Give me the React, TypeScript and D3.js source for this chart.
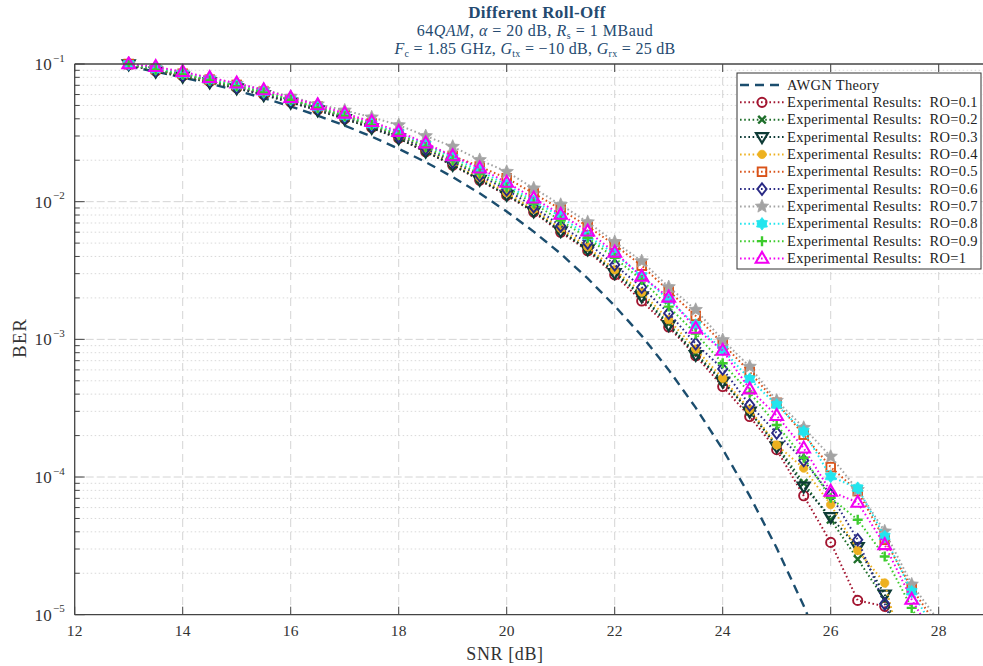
import React from "react";
import * as d3 from "d3";

const SNR = [13, 13.5, 14, 14.5, 15, 15.5, 16, 16.5, 17, 17.5, 18, 18.5, 19, 19.5, 20, 20.5, 21, 21.5, 22, 22.5, 23, 23.5, 24, 24.5, 25, 25.5, 26, 26.5, 27, 27.5, 28];

const THEORY = [0.0961, 0.088, 0.0799, 0.072, 0.0641, 0.0565, 0.0492, 0.0422, 0.0357, 0.0297, 0.0242, 0.0194, 0.0151, 0.0115, 0.00849, 0.00606, 0.00419, 0.00277, 0.00175, 0.00106, 0.0006, 0.000319, 0.000159, 0.000073, 0.0000305, 0.0000116, 0.0000039];

const RO_01 = [0.099, 0.089, 0.082, 0.0745, 0.067, 0.06, 0.053, 0.0465, 0.04, 0.0345, 0.0288, 0.023, 0.0184, 0.0143, 0.0111, 0.0084, 0.006, 0.0044, 0.00294, 0.0019, 0.00123, 0.00076, 0.000454, 0.000275, 0.000158, 0.0000731, 0.0000335, 0.0000127, 0.0000115, 0.000003];
const RO_02 = [0.1, 0.09, 0.082, 0.075, 0.0675, 0.0605, 0.0535, 0.047, 0.0405, 0.035, 0.0292, 0.0234, 0.0187, 0.0146, 0.0113, 0.0086, 0.0062, 0.0045, 0.0031, 0.0021, 0.0013, 0.00079, 0.0005, 0.0003, 0.00017, 0.0000905, 0.000049, 0.0000253, 0.0000129, 0.000004];
const RO_03 = [0.0995, 0.088, 0.081, 0.0735, 0.0665, 0.0595, 0.0525, 0.046, 0.0398, 0.0343, 0.0288, 0.0231, 0.0185, 0.0144, 0.0112, 0.0085, 0.0061, 0.0045, 0.00303, 0.00205, 0.00127, 0.00077, 0.000494, 0.000299, 0.000166, 0.0000853, 0.0000512, 0.000031, 0.000014, 0.000004];
const RO_04 = [0.1, 0.09, 0.0825, 0.075, 0.068, 0.061, 0.054, 0.0475, 0.041, 0.0355, 0.0298, 0.024, 0.0192, 0.015, 0.0116, 0.0088, 0.0064, 0.0047, 0.0032, 0.0022, 0.00139, 0.00085, 0.000522, 0.00031, 0.000171, 0.000116, 0.000063, 0.0000293, 0.000017, 0.000003];
const RO_05 = [0.1, 0.092, 0.085, 0.077, 0.0705, 0.063, 0.0555, 0.049, 0.0425, 0.037, 0.031, 0.0255, 0.0215, 0.018, 0.0148, 0.0115, 0.0088, 0.0066, 0.00485, 0.00343, 0.00225, 0.00148, 0.00093, 0.00058, 0.000346, 0.000203, 0.000118, 0.000079, 0.000035, 0.0000156, 0.000008];
const RO_06 = [0.1, 0.09, 0.083, 0.0755, 0.068, 0.061, 0.054, 0.0475, 0.041, 0.0355, 0.0298, 0.0243, 0.0195, 0.0155, 0.0122, 0.0092, 0.00667, 0.005, 0.00348, 0.00239, 0.00155, 0.00093, 0.00061, 0.000334, 0.000209, 0.000132, 0.0000743, 0.000035, 0.000012, 0.000004];
const RO_07 = [0.1, 0.094, 0.087, 0.079, 0.072, 0.065, 0.058, 0.051, 0.046, 0.041, 0.036, 0.03, 0.0251, 0.0201, 0.0165, 0.0125, 0.0095, 0.0071, 0.0051, 0.0037, 0.0024, 0.00164, 0.00099, 0.000634, 0.000359, 0.000228, 0.000141, 0.0000807, 0.0000403, 0.0000166, 0.000009];
const RO_08 = [0.1, 0.092, 0.085, 0.077, 0.07, 0.0625, 0.055, 0.0485, 0.042, 0.0365, 0.0316, 0.026, 0.0208, 0.0168, 0.0132, 0.0101, 0.0078, 0.00564, 0.00418, 0.00289, 0.00194, 0.00127, 0.00084, 0.000514, 0.000334, 0.000214, 0.000101, 0.000083, 0.000037, 0.0000147, 0.000007];
const RO_09 = [0.1, 0.091, 0.084, 0.076, 0.069, 0.062, 0.055, 0.048, 0.0418, 0.036, 0.0305, 0.025, 0.02, 0.016, 0.0127, 0.0097, 0.0073, 0.00546, 0.00391, 0.0027, 0.00173, 0.0011, 0.00067, 0.00041, 0.000239, 0.000138, 0.0000706, 0.000049, 0.0000265, 0.0000112, 0.000005];
const RO_10 = [0.1, 0.0956, 0.0879, 0.0795, 0.0725, 0.0648, 0.0569, 0.0504, 0.0438, 0.0381, 0.0323, 0.0266, 0.0215, 0.0175, 0.0138, 0.0106, 0.00807, 0.0061, 0.00429, 0.00286, 0.00202, 0.0012, 0.00083, 0.000435, 0.000279, 0.000162, 0.0000785, 0.0000653, 0.0000322, 0.0000129, 0.000006];

const SERIES_LABELS = ["RO=0.1", "RO=0.2", "RO=0.3", "RO=0.4", "RO=0.5", "RO=0.6", "RO=0.7", "RO=0.8", "RO=0.9", "RO=1"];
const SERIES_VALUES = [RO_01, RO_02, RO_03, RO_04, RO_05, RO_06, RO_07, RO_08, RO_09, RO_10];
const SERIES_COLORS = ["#A2142F", "#1E6E2A", "#0E3B36", "#EDB120", "#D95319", "#2A2A85", "#A3A3A3", "#22E5EE", "#3CCB2C", "#F200F2"];
const SERIES_MARKERS = ["circle", "x", "tridown", "dot", "square", "diamond", "star", "hex", "plus", "triup"];

const X_TICKS = [12, 14, 16, 18, 20, 22, 24, 26, 28];
const Y_EXPONENTS = [-1, -2, -3, -4, -5];

const W = 983, H = 666;
const L = 74.7, T = 64, B = 614.7;
const R = L + 17 * 54;
const SERIF = "'Liberation Serif', 'Times New Roman', serif";
const TITLE_COLOR = "#244A70";
const AXIS = "#444";
const NB = "\u00A0";

function starPath(r: number, n: number, inner: number) {
  const pts: string[] = [];
  for (let i = 0; i < n * 2; i++) {
    const a = -Math.PI / 2 + (i * Math.PI) / n;
    const rr = i % 2 === 0 ? r : r * inner;
    pts.push(`${(rr * Math.cos(a)).toFixed(2)},${(rr * Math.sin(a)).toFixed(2)}`);
  }
  return "M" + pts.join("L") + "Z";
}

function Marker({ kind, color, x, y }: { kind: string; color: string; x: number; y: number }) {
  const sw = 1.9;
  const t = `translate(${x},${y})`;
  switch (kind) {
    case "circle":
      return <circle cx={x} cy={y} r={4.6} fill="none" stroke={color} strokeWidth={sw} />;
    case "dot":
      return <circle cx={x} cy={y} r={4.2} fill={color} stroke={color} strokeWidth={0.8} />;
    case "x":
      return <path transform={t} d="M-3.8,-3.8L3.8,3.8M-3.8,3.8L3.8,-3.8" stroke={color} strokeWidth={2.4} fill="none" />;
    case "plus":
      return <path transform={t} d="M-5,0L5,0M0,-5L0,5" stroke={color} strokeWidth={2.4} fill="none" />;
    case "tridown":
      return <path transform={t} d="M-6,-4L6,-4L0,6Z" stroke={color} strokeWidth={2.2} fill="none" strokeLinejoin="miter" />;
    case "triup":
      return <path transform={t} d="M-6.3,4.3L6.3,4.3L0,-6.6Z" stroke={color} strokeWidth={2.1} fill="none" />;
    case "square":
      return <rect x={x - 4.3} y={y - 4.3} width={8.6} height={8.6} stroke={color} strokeWidth={sw} fill="none" />;
    case "diamond":
      return <path transform={t} d="M0,-5.8L4.6,0L0,5.8L-4.6,0Z" stroke={color} strokeWidth={sw} fill="none" />;
    case "star":
      return <path transform={t} d={starPath(7, 5, 0.45)} fill={color} stroke={color} strokeWidth={0.8} />;
    case "hex":
      return <path transform={t} d={starPath(6.3, 6, 0.65)} fill={color} stroke={color} strokeWidth={0.8} />;
    default:
      return null;
  }
}

export default function App() {
  const x = d3.scaleLinear().domain([12, 29]).range([L, R]);
  const y = d3.scaleLog().domain([1e-5, 1e-1]).range([B, T]);

  const line = d3
    .line<[number, number]>()
    .x((d) => x(d[0]))
    .y((d) => y(d[1]));

  const theoryPts: [number, number][] = THEORY.map((v, i) => [SNR[i], v]);

  const minorY: number[] = [];
  for (let e = -5; e < -1; e++) {
    for (let m = 2; m <= 9; m++) minorY.push(m * Math.pow(10, e));
  }

  const legendX = 737, legendY = 73, legendW = 244, legendH = 196;
  const rowY = (i: number) => 85 + i * 17.35;

  return (
    <svg width={W} height={H} style={{ position: "absolute", left: 0, top: 0, background: "#fff" }} fontFamily={SERIF}>
      <defs>
        <clipPath id="plotclip">
          <rect x={L} y={T - 8} width={R - L} height={B - T + 8} />
        </clipPath>
      </defs>
      <rect x={0} y={0} width={W} height={H} fill="#fff" />

      {/* title */}
      <text x={537} y={18} textAnchor="middle" fontSize={17} fontWeight="bold" letterSpacing={0.4} fill={TITLE_COLOR}>
        Different Roll-Off
      </text>
      <text x={535} y={36} textAnchor="middle" fontSize={16} letterSpacing={0.5} fill={TITLE_COLOR}>
        64<tspan fontStyle="italic">QAM</tspan>, <tspan fontStyle="italic">α</tspan>{NB}={NB}20 dB, <tspan fontStyle="italic">R</tspan>
        <tspan fontSize={10} dy={3}>s</tspan>
        <tspan dy={-3}>{NB}={NB}1 MBaud</tspan>
      </text>
      <text x={535} y={54} textAnchor="middle" fontSize={16} letterSpacing={0.3} fill={TITLE_COLOR}>
        <tspan fontStyle="italic">F</tspan>
        <tspan fontSize={10} dy={3}>c</tspan>
        <tspan dy={-3}> = 1.85 GHz, </tspan>
        <tspan fontStyle="italic">G</tspan>
        <tspan fontSize={10} dy={3}>tx</tspan>
        <tspan dy={-3}> = −10 dB, </tspan>
        <tspan fontStyle="italic">G</tspan>
        <tspan fontSize={10} dy={3}>rx</tspan>
        <tspan dy={-3}> = 25 dB</tspan>
      </text>

      {/* grid */}
      {minorY.map((v) => (
        <line key={"my" + v} x1={L} x2={R} y1={y(v)} y2={y(v)} stroke="#cfcfcf" strokeWidth={0.8} strokeDasharray="1.5 2.5" />
      ))}
      {Y_EXPONENTS.slice(1, 4).map((e) => (
        <line key={"gy" + e} x1={L} x2={R} y1={y(Math.pow(10, e))} y2={y(Math.pow(10, e))} stroke="#d4d4d4" strokeWidth={1} strokeDasharray="8 3" />
      ))}
      {X_TICKS.slice(1).map((t) => (
        <line key={"gx" + t} x1={x(t)} x2={x(t)} y1={T} y2={B} stroke="#d4d4d4" strokeWidth={1} strokeDasharray="8 5" />
      ))}

      <g clipPath="url(#plotclip)">
        <path d={line(theoryPts) || ""} fill="none" stroke="#1B4D6E" strokeWidth={2.4} strokeDasharray="9 6" />
        {SERIES_VALUES.map((vals, si) => {
          const pts: [number, number][] = vals.map((v, i) => [SNR[i], v]);
          return (
            <g key={"s" + si}>
              <path d={line(pts) || ""} fill="none" stroke={SERIES_COLORS[si]} strokeWidth={2} strokeDasharray="1.6 2.6" />
              {pts
                .filter((p) => p[1] >= 1e-5 * 0.97)
                .map((p, i) => (
                  <Marker key={i} kind={SERIES_MARKERS[si]} color={SERIES_COLORS[si]} x={x(p[0])} y={y(p[1])} />
                ))}
            </g>
          );
        })}
      </g>

      {/* axes frame */}
      <line x1={L} x2={R} y1={B} y2={B} stroke={AXIS} strokeWidth={1.3} />
      <line x1={L} x2={R} y1={T} y2={T} stroke={AXIS} strokeWidth={1.3} />
      <line x1={L} x2={L} y1={T} y2={B} stroke={AXIS} strokeWidth={1.3} />

      {X_TICKS.map((t) => (
        <g key={"xt" + t}>
          <line x1={x(t)} x2={x(t)} y1={B} y2={B - 8} stroke={AXIS} strokeWidth={1} />
          <line x1={x(t)} x2={x(t)} y1={T} y2={T + 8} stroke={AXIS} strokeWidth={1} />
          <text x={x(t)} y={636} textAnchor="middle" fontSize={15.5} letterSpacing={0.3} fill="#333">
            {t}
          </text>
        </g>
      ))}
      {minorY.map((v) => (
        <line key={"mt" + v} x1={L} x2={L + 5} y1={y(v)} y2={y(v)} stroke={AXIS} strokeWidth={1} />
      ))}
      {Y_EXPONENTS.map((e) => (
        <g key={"yt" + e}>
          <line x1={L} x2={L + 10} y1={y(Math.pow(10, e))} y2={y(Math.pow(10, e))} stroke={AXIS} strokeWidth={1} />
          <text x={52} y={y(Math.pow(10, e)) + 6} textAnchor="end" fontSize={17} letterSpacing={0.3} fill="#333">
            10
          </text>
          <text x={53} y={y(Math.pow(10, e)) - 2.5} textAnchor="start" fontSize={11} fill="#333">
            −{-e}
          </text>
        </g>
      ))}

      <text x={505} y={660} textAnchor="middle" fontSize={18} letterSpacing={0.6} fill="#333">
        SNR [dB]
      </text>
      <text transform={`translate(26,338) rotate(-90)`} textAnchor="middle" fontSize={19} letterSpacing={1} fill="#333">
        BER
      </text>

      {/* legend */}
      <rect x={legendX} y={legendY} width={legendW} height={legendH} fill="#fff" stroke="#333" strokeWidth={1} />
      <line x1={740} x2={784} y1={rowY(0)} y2={rowY(0)} stroke="#1B4D6E" strokeWidth={2.4} strokeDasharray="9 6" />
      <text x={787} y={rowY(0) + 4.5} fontSize={14.5} letterSpacing={0.3} fill="#222">
        AWGN Theory
      </text>
      {SERIES_LABELS.map((lab, si) => (
        <g key={"lg" + si}>
          <line x1={740} x2={784} y1={rowY(si + 1)} y2={rowY(si + 1)} stroke={SERIES_COLORS[si]} strokeWidth={2} strokeDasharray="1.6 2.6" />
          <Marker kind={SERIES_MARKERS[si]} color={SERIES_COLORS[si]} x={762} y={rowY(si + 1)} />
          <text x={787} y={rowY(si + 1) + 4.5} fontSize={14.5} letterSpacing={0.3} fill="#222">
            {"Experimental Results:" + NB + " " + lab}
          </text>
        </g>
      ))}
    </svg>
  );
}
